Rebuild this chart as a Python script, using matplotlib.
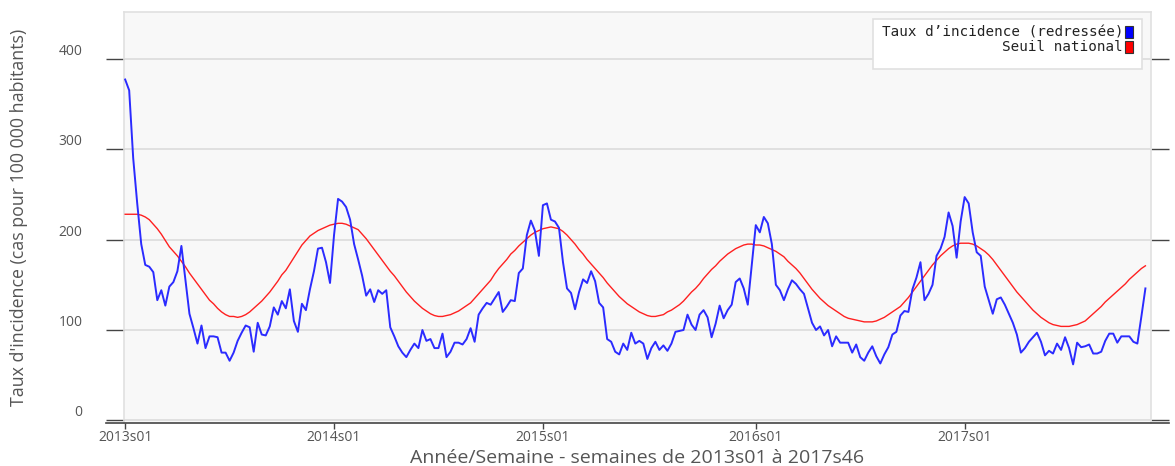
import matplotlib.pyplot as plt
from matplotlib.patches import Rectangle
from matplotlib.lines import Line2D

# Weekly incidence (redressee), 2013s01 .. 2017s46 (255 weeks)
taux = [
    377, 365, 290, 240, 195, 172, 170, 164, 133, 144,
    127, 148, 153, 165, 193, 155, 118, 102, 85, 105,
    80, 93, 93, 92, 75, 75, 66, 75, 88, 97,
    105, 103, 76, 108, 95, 94, 104, 125, 117, 132,
    124, 145, 110, 98, 129, 122, 145, 165, 190, 191,
    175, 152, 205, 245, 242, 236, 222, 195, 178, 160,
    138, 145, 131, 144, 140, 144, 103, 93, 82, 75,
    70, 78, 85, 80, 100, 88, 90, 80, 80, 96,
    70, 76, 86, 86, 84, 90, 102, 87, 117, 124,
    130, 128, 135, 142, 120, 126, 133, 132, 163, 168,
    205, 221, 210, 182, 238, 240, 222, 220, 213, 175,
    146, 141, 123, 142, 156, 152, 165, 154, 130, 125,
    90, 87, 76, 73, 85, 78, 97, 85, 88, 85,
    68, 80, 87, 78, 83, 77, 85, 98, 99, 100,
    117, 106, 100, 117, 122, 114, 92, 107, 127, 113,
    122, 128, 153, 157, 146, 128, 172, 216, 208, 225,
    218, 195, 150, 144, 133, 145, 155, 151, 145, 140,
    124, 108, 100, 104, 94, 100, 82, 93, 86, 86,
    86, 75, 84, 70, 66, 75, 82, 71, 63, 73,
    81, 95, 98, 116, 121, 120, 145, 158, 175, 133,
    140, 150, 182, 190, 203, 230, 215, 180, 220, 247,
    240, 208, 186, 182, 148, 133, 118, 134, 136, 128,
    118, 108, 95, 75, 80, 87, 92, 97, 87, 72,
    77, 74, 85, 78, 92, 80, 62, 86, 81, 82,
    84, 74, 74, 76, 88, 96, 96, 86, 93, 93,
    93, 87, 85, 115, 146,
]

# Seuil national (epidemic threshold)
seuil = [
    228, 228, 228, 228, 227, 225, 222, 217, 212, 206,
    199, 192, 187, 182, 176, 170, 163, 157, 151, 145,
    139, 133, 129, 124, 120, 117, 115, 115, 114, 115,
    117, 120, 124, 128, 132, 137, 142, 148, 154, 161,
    166, 173, 180, 187, 194, 199, 204, 207, 210, 212,
    214, 216, 217, 218, 218, 217, 215, 213, 211, 206,
    201, 195, 189, 183, 177, 171, 165, 160, 154, 148,
    142, 137, 132, 128, 124, 121, 118, 116, 115, 115,
    116, 117, 119, 121, 124, 127, 130, 135, 140, 145,
    150, 155, 162, 168, 173, 178, 184, 188, 193, 197,
    201, 205, 208, 210, 212, 213, 214, 213, 212, 209,
    205, 200, 195, 189, 184, 178, 173, 168, 163, 158,
    152, 147, 142, 137, 133, 129, 126, 123, 120, 118,
    116, 115, 115, 116, 117, 120, 122, 125, 128, 132,
    137, 142, 146, 151, 157, 162, 167, 171, 176, 180,
    184, 187, 190, 192, 194, 195, 195, 194, 194, 193,
    191, 189, 187, 184, 181, 176, 172, 168, 163, 157,
    151, 145, 140, 135, 131, 127, 124, 121, 118, 115,
    113, 112, 111, 110, 109, 109, 109, 110, 112, 114,
    117, 120, 123, 126, 131, 136, 142, 148, 154, 160,
    166, 172, 177, 182, 186, 190, 193, 195, 196, 196,
    196, 195, 193, 190, 187, 183, 178, 172, 166, 160,
    154, 148, 142, 137, 132, 127, 122, 118, 114, 111,
    108, 106, 105, 104, 104, 104, 105, 106, 108, 110,
    114, 118, 122, 126, 131, 135, 139, 143, 147, 151,
    156, 160, 164, 168, 171,
]

xtick_pos = [0, 52, 104, 157, 209]
xtick_labels = ['2013s01', '2014s01', '2015s01', '2016s01', '2017s01']
yticks = [0, 100, 200, 300, 400]

plt.rcParams['font.family'] = ['Open Sans', 'DejaVu Sans']

fig = plt.figure(figsize=(11.75, 4.66), dpi=100)
ax = fig.add_axes([0.1055, 0.0929, 0.8741, 0.882])
ax.set_facecolor('#f8f8f8')

weeks = list(range(len(taux)))
ax.plot(weeks, seuil, color='#ff2020', linewidth=1.0, zorder=3)
ax.plot(weeks, taux, color='#2b2bff', linewidth=1.4, zorder=4)

ax.set_xlim(-0.3, 255.4)
ax.set_ylim(-2.5, 452)

ax.set_yticks(yticks)
ax.set_xticks(xtick_pos)
ax.set_xticklabels(xtick_labels)
ax.grid(axis='y', color='#dcdcdc', linewidth=1.2, zorder=0)
ax.set_axisbelow(True)

ax.tick_params(axis='y', which='both', left=True, right=True, direction='out',
               length=13, width=1.0, color='#444444', labelsize=10,
               labelcolor='#555555', pad=17)
ax.tick_params(axis='x', direction='out', length=4, width=1.0, color='#444444',
               labelsize=10, labelcolor='#555555', pad=1)
for lab in ax.get_yticklabels():
    lab.set_va('bottom')

for side in ['left', 'top', 'right']:
    ax.spines[side].set_color('#e0e0e0')
    ax.spines[side].set_linewidth(1.2)
ax.spines['bottom'].set_visible(False)

# x axis line extended beyond the plot area like the right/left ticks
ax.add_line(Line2D([-0.0175, 1.0175], [0.0, 0.0], transform=ax.transAxes,
                   color='#444444', linewidth=1.2, clip_on=False, zorder=5))

ax.set_ylabel("Taux d'incidence (cas pour 100 000 habitants)", fontsize=12.8,
              color='#555555')
ax.set_xlabel('Année/Semaine - semaines de 2013s01 à 2017s46', fontsize=14,
              color='#555555', labelpad=3)
ax.yaxis.set_label_coords(-0.093, 0.5)

# legend box (top right)
W, H = 1175.0, 466.0
fig.patches.append(Rectangle((873 / W, 1 - 69 / H), (1142 - 873) / W, 50 / H,
                             transform=fig.transFigure, facecolor='white',
                             edgecolor='#e0e0e0', linewidth=1.2, zorder=10))
legend_items = [("Taux d’incidence (redressée)", '#0000ff', 32),
                ("Seuil national", '#ff0000', 47)]
for label, col, yc in legend_items:
    fig.text(1123 / W, 1 - yc / H, label, ha='right', va='center',
             family='DejaVu Sans Mono', fontsize=10.3, color='#222222', zorder=11)
    fig.patches.append(Rectangle((1125 / W, 1 - (yc + 6) / H), 8 / W, 12 / H,
                                 transform=fig.transFigure, facecolor=col,
                                 edgecolor='#333333', linewidth=0.8, zorder=11))

fig.savefig('out.png', dpi=100)
